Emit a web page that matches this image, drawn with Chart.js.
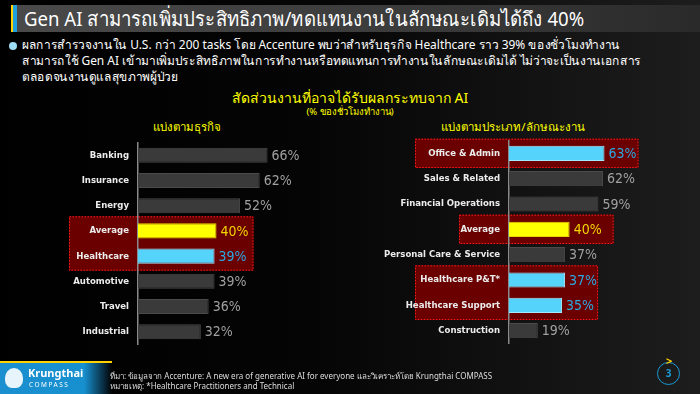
<!DOCTYPE html>
<html>
<head>
<meta charset="utf-8">
<script src="https://cdn.jsdelivr.net/npm/chart.js@4.4.1/dist/chart.umd.min.js"></script>
<style>
  html, body { margin: 0; padding: 0; }
  body {
    width: 700px; height: 394px; overflow: hidden; position: relative;
    background: linear-gradient(90deg, #000 0%, #050505 45%, #1d1d1d 100%);
    font-family: "Noto Sans", "DejaVu Sans", sans-serif; color: #fff;
  }
  .titlebar {
    position: absolute; left: 11px; top: 5px; width: 689px; height: 27px;
    background: linear-gradient(90deg, #4a4a4a 0%, #3a3a3a 60%, #2a2a2a 100%);
  }
  .titlebar .acc1 { position: absolute; left: 0; top: 0; width: 2px; height: 27px; background: #ffd200; }
  .titlebar .acc2 { position: absolute; left: 2px; top: 0; width: 4px; height: 27px; background: #1ea0dc; }
  .titlebar .txt { position: absolute; left: 13px; top: 0px; font-size: 20px; line-height: 27px; color: #fff; white-space: nowrap; transform: scaleX(0.93); transform-origin: left center; }
  .bullet { position: absolute; left: 22px; top: 37px; width: 700px; font-size: 12.5px; line-height: 16px; color: #fff; transform: scaleX(0.955); transform-origin: left top; }
  .dot { position: absolute; left: 9px; top: 42px; width: 8px; height: 8px; border-radius: 50%; background: #9fdcf5; }
  .ctitle { position: absolute; left: 0; width: 700px; text-align: center; color: #ffff00; }
  .sub { position: absolute; color: #ffff00; font-size: 11.5px; text-align: center; white-space: nowrap; }
  canvas { position: absolute; }
  .logo {
    position: absolute; left: 0; top: 361px; width: 112px; height: 33px;
    background: linear-gradient(90deg, #1b8fcf 0%, #1790d0 75%, rgba(23,144,208,0) 100%);
    border-top: 2px solid #ffd200;
  }
  .logo .k { position: absolute; left: 28px; top: 2px; font-size: 11px; font-weight: bold; color: #fff; }
  .logo .c { position: absolute; left: 29px; top: 17px; font-size: 6.5px; letter-spacing: 1.5px; color: #fff; }
  .logo .ic { position: absolute; left: 5px; top: 5px; width: 18px; height: 20px; border-radius: 50% 50% 40% 40%; background: #e8f4fb; }
  .foot { position: absolute; left: 110px; top: 371px; font-size: 8px; line-height: 10px; color: #ddd; }
  .pg { position: absolute; left: 657px; top: 362px; width: 21px; height: 21px; border: 1.5px solid #1a9ad6; border-radius: 50%; color: #1a9ad6; font-size: 10px; font-weight: bold; text-align: center; line-height: 21px; }
  .pg:before { content: ">"; position: absolute; left: 8px; top: -13px; color: #ffd200; font-size: 11px; font-weight: bold; }
</style>
</head>
<body>
<div class="titlebar"><div class="acc1"></div><div class="acc2"></div>
  <div class="txt">Gen AI สามารถเพิ่มประสิทธิภาพ/ทดแทนงานในลักษณะเดิมได้ถึง 40%</div></div>
<div class="dot"></div>
<div class="bullet">ผลการสำรวจงานใน U.S. กว่า 200 tasks โดย Accenture พบว่าสำหรับธุรกิจ Healthcare ราว 39% ของชั่วโมงทำงาน<br>สามารถใช้ Gen AI เข้ามาเพิ่มประสิทธิภาพในการทำงานหรือทดแทนการทำงานในลักษณะเดิมได้ ไม่ว่าจะเป็นงานเอกสาร<br>ตลอดจนงานดูแลสุขภาพผู้ป่วย</div>
<div class="ctitle" style="top:87px;font-size:14px;">สัดส่วนงานที่อาจได้รับผลกระทบจาก AI</div>
<div class="ctitle" style="top:104px;font-size:9.5px;">(% ของชั่วโมงทำงาน)</div>
<div class="sub" style="left:137px;top:118px;width:100px;">แบ่งตามธุรกิจ</div>
<div class="sub" style="left:433px;top:118px;width:160px;">แบ่งตามประเภท/ลักษณะงาน</div>
<canvas id="bizChart" style="left:0;top:128px;" width="350" height="231"></canvas>
<canvas id="jobChart" style="left:350px;top:126px;" width="350" height="232"></canvas>
<div class="logo"><div class="ic"></div><div class="k">Krungthai</div><div class="c">COMPASS</div></div>
<div class="foot">ที่มา: ข้อมูลจาก Accenture: A new era of generative AI for everyone และวิเคราะห์โดย Krungthai COMPASS<br>หมายเหตุ: *Healthcare Practitioners and Technical</div>
<div class="pg">3</div>
<script>
// ข้อมูล: แบ่งตามธุรกิจ
const bizLabels = ['Banking', 'Insurance', 'Energy', 'Average', 'Healthcare', 'Automotive', 'Travel', 'Industrial'];
const bizValues = [66, 62, 52, 40, 39, 39, 36, 32];
const bizFocus = ['Healthcare'];

// ข้อมูล: แบ่งตามประเภท/ลักษณะงาน
const jobLabels = ['Office & Admin', 'Sales & Related', 'Financial Operations', 'Average', 'Personal Care & Service', 'Healthcare P&T*', 'Healthcare Support', 'Construction'];
const jobValues = [63, 62, 59, 40, 37, 37, 35, 19];
const jobFocus = ['Office & Admin', 'Healthcare P&T*', 'Healthcare Support'];

const GRAY = '#3a3a3a', YELLOW = '#ffff00', BLUE = '#55d3fb';

function barColor(label, focus) {
    if (label === 'Average') return YELLOW;
    if (focus.includes(label)) return BLUE;
    return GRAY;
}
function borderColor(label, focus) {
    if (label === 'Average') return '#e8d800';
    if (focus.includes(label)) return '#a6e8ff';
    return '#4a4a4a';
}
function valueColor(label, focus) {
    if (label === 'Average') return '#f2d600';
    if (focus.includes(label)) return '#2ba8e0';
    return '#a0a0a0';
}

// กรอบแดงไฮไลต์ (วาดก่อนแกนและแท่ง)
const highlightBoxes = {
    id: 'highlightBoxes',
    beforeDraw(chart, args, opts) {
        const { ctx } = chart;
        const x = chart.scales.x, y = chart.scales.y;
        const band = y.getPixelForValue(1) - y.getPixelForValue(0);
        const x0 = x.getPixelForValue(0);
        ctx.save();
        (opts.boxes || []).forEach(b => {
            const top = y.getPixelForValue(b.from) - band / 2 - 2;
            const bottom = y.getPixelForValue(b.to) + band / 2 + 2;
            const left = x0 - b.left;
            const right = x.getPixelForValue(b.maxVal) + b.right;
            ctx.fillStyle = '#6a0000';
            ctx.fillRect(left, top, right - left, bottom - top);
            ctx.strokeStyle = '#ff1a1a';
            ctx.lineWidth = 1;
            ctx.setLineDash([1.5, 1.5]);
            ctx.strokeRect(left + 0.5, top + 0.5, right - left - 1, bottom - top - 1);
        });
        ctx.restore();
    }
};

// ป้ายตัวเลขท้ายแท่ง
const valueLabels = {
    id: 'valueLabels',
    afterDatasetsDraw(chart, args, opts) {
        const { ctx } = chart;
        const meta = chart.getDatasetMeta(0);
        ctx.save();
        ctx.font = '14px "DejaVu Sans Condensed", "Noto Sans", sans-serif';
        ctx.textBaseline = 'middle';
        meta.data.forEach((bar, i) => {
            const label = chart.data.labels[i];
            ctx.fillStyle = valueColor(label, opts.focus);
            ctx.fillText(chart.data.datasets[0].data[i] + '%', bar.x + 4, bar.y + 1);
        });
        ctx.restore();
    }
};

function drawBarChart(canvasId, labels, values, focus, axisWidth, xMax, boxes) {
    const ctx = document.getElementById(canvasId).getContext('2d');
    new Chart(ctx, {
        type: 'bar',
        data: {
            labels: labels,
            datasets: [{
                data: values,
                backgroundColor: labels.map(l => barColor(l, focus)),
                borderColor: labels.map(l => borderColor(l, focus)),
                borderWidth: 1,
                barPercentage: 0.6,
                categoryPercentage: 1
            }]
        },
        options: {
            indexAxis: 'y',
            responsive: false,
            maintainAspectRatio: false,
            animation: false,
            layout: { padding: 0 },
            scales: {
                x: { display: false, min: 0, max: xMax },
                y: {
                    grid: { display: false, drawTicks: false },
                    border: { display: true, color: '#8a8a8a', width: 1.5 },
                    ticks: { color: '#ececec', padding: 9, font: { size: 9.5, weight: 'bold', family: '"DejaVu Sans Condensed", "Noto Sans", sans-serif' } },
                    afterFit(scale) { scale.width = axisWidth; }
                }
            },
            plugins: {
                legend: { display: false },
                tooltip: { enabled: false },
                highlightBoxes: { boxes: boxes },
                valueLabels: { focus: focus }
            }
        },
        plugins: [highlightBoxes, valueLabels]
    });
}

document.addEventListener('DOMContentLoaded', () => {
    drawBarChart('bizChart', bizLabels, bizValues, bizFocus, 138, 108,
        [{ from: 3, to: 4, maxVal: 40, left: 69, right: 37 }]);
    drawBarChart('jobChart', jobLabels, jobValues, jobFocus, 159, 126,
        [{ from: 0, to: 0, maxVal: 63, left: 94, right: 34 },
         { from: 3, to: 3, maxVal: 40, left: 50, right: 44 },
         { from: 5, to: 6, maxVal: 37, left: 94, right: 33 }]);
});
</script>
</body>
</html>
